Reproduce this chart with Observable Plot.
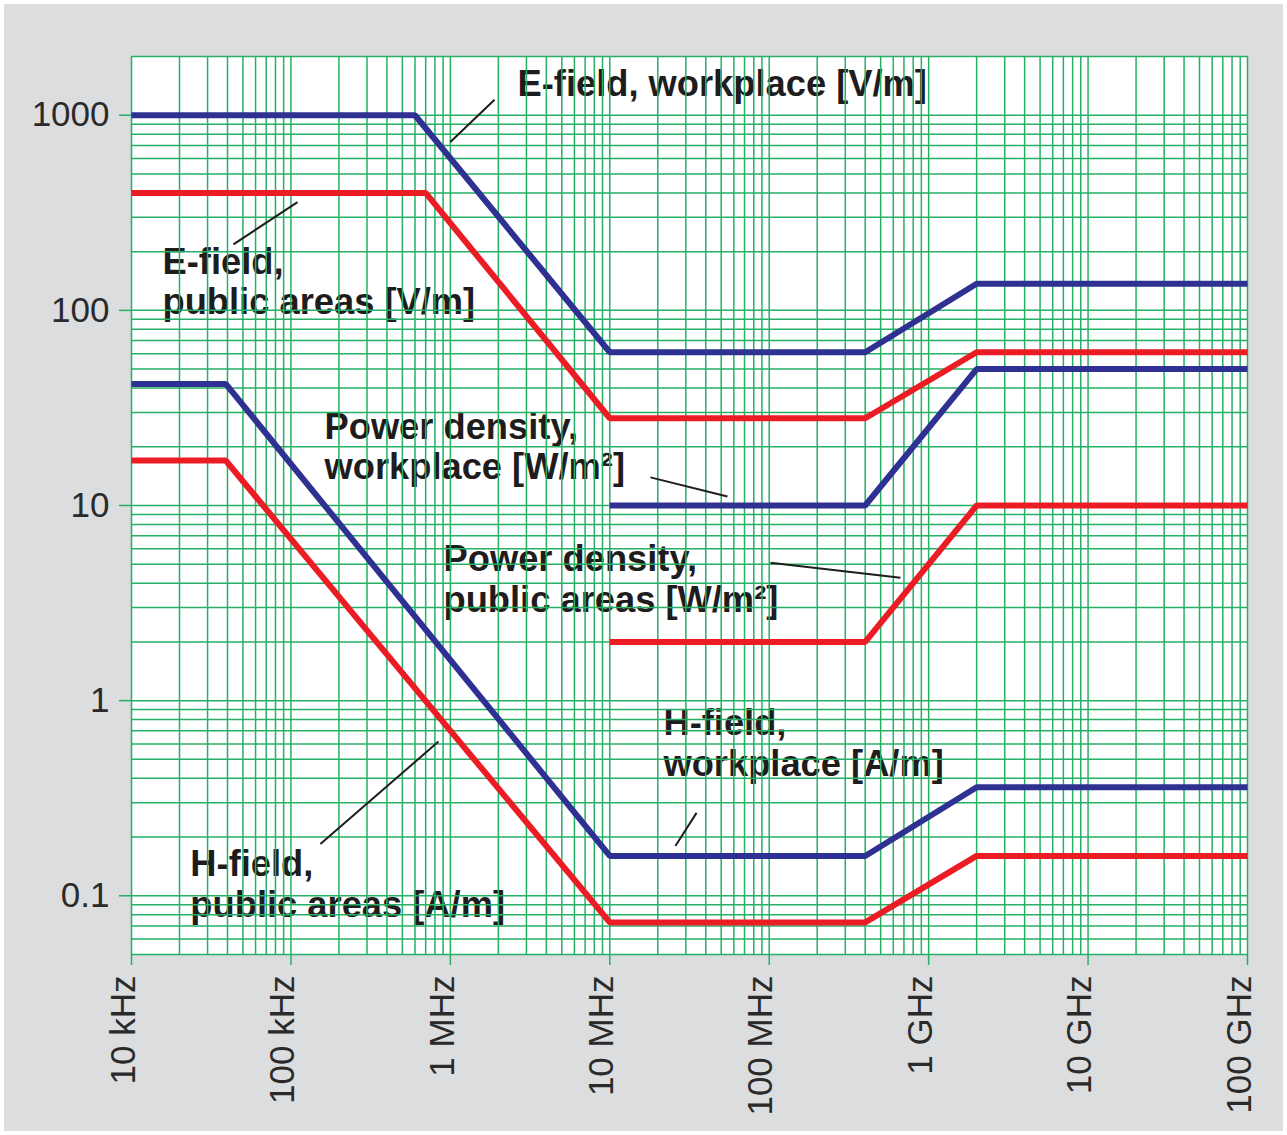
<!DOCTYPE html>
<html>
<head>
<meta charset="utf-8">
<script src="https://cdn.jsdelivr.net/npm/d3@7"></script>
<script src="https://cdn.jsdelivr.net/npm/@observablehq/plot@0.6"></script>
<style>
  html, body { margin: 0; padding: 0; background: #ffffff; }
  #wrap { position: absolute; left: 4px; top: 4px; width: 1279px; height: 1127px; background: #dcdddf; }
  svg { font-family: "Liberation Sans", Arial, sans-serif; }
</style>
</head>
<body>
<div id="wrap"></div>
<script>
// ---------- data ----------
const xTickValues = [1e4, 1e5, 1e6, 1e7, 1e8, 1e9, 1e10, 1e11];
const xTickLabels = ["10 kHz", "100 kHz", "1 MHz", "10 MHz", "100 MHz", "1 GHz", "10 GHz", "100 GHz"];
const yTickValues = [0.1, 1, 10, 100, 1000];
const yTickLabels = ["0.1", "1", "10", "100", "1000"];

// frequency (Hz) / limit value per series
const eWorkFreq   = [1e4, 6e5, 1e7, 4e8, 2e9, 1e11];
const eWorkVal    = [1000, 1000, 61, 61, 137, 137];
const ePublicFreq = [1e4, 7e5, 1e7, 4e8, 2e9, 1e11];
const ePublicVal  = [400, 400, 28, 28, 61, 61];
const pdWorkFreq  = [1e7, 4e8, 2e9, 1e11];
const pdWorkVal   = [10, 10, 50, 50];
const pdPublicFreq = [1e7, 4e8, 2e9, 1e11];
const pdPublicVal  = [2, 2, 10, 10];
const hWorkFreq   = [1e4, 3.9e4, 1e7, 4e8, 2e9, 1e11];
const hWorkVal    = [42, 42, 0.16, 0.16, 0.36, 0.36];
const hPublicFreq = [1e4, 3.9e4, 1e7, 4e8, 2e9, 1e11];
const hPublicVal  = [17, 17, 0.073, 0.073, 0.16, 0.16];

// annotation texts (one entry per text line) and their anchor in data space
const labelText  = ["E-field, workplace [V/m]", "E-field,", "public areas [V/m]",
                    "Power density,", "workplace [W/m²]", "Power density,", "public areas [W/m²]",
                    "H-field,", "workplace [A/m]", "H-field,", "public areas [A/m]"];
const labelFreq  = [2.637e6, 1.565e4, 1.565e4, 1.624e5, 1.624e5, 9.06e5, 9.06e5, 2.17e7, 2.17e7, 2.34e4, 2.34e4];
const labelValue = [1435, 176, 109.6, 25.2, 15.7, 5.27, 3.28, 0.764, 0.47, 0.1453, 0.0894];

// leader lines: start/end in data space
const leaderFreq1 = [1.892e6, 1.10e5, 1.80e7, 1.018e8, 3.50e7, 8.43e5];
const leaderVal1  = [1201, 358.6, 13.94, 5.09, 0.266, 0.617];
const leaderFreq2 = [1.0e6, 4.36e4, 5.47e7, 6.66e8, 2.58e7, 1.53e5];
const leaderVal2  = [730, 218, 11.13, 4.26, 0.180, 0.184];

// ---------- derived tables ----------
const BLUE = "#2e3192", RED = "#ec1c24", GREEN = "#25b066", INK = "#1f1c1d";
const series = [
  {name: "E workplace", f: eWorkFreq, v: eWorkVal, color: BLUE},
  {name: "E public", f: ePublicFreq, v: ePublicVal, color: RED},
  {name: "PD workplace", f: pdWorkFreq, v: pdWorkVal, color: BLUE},
  {name: "PD public", f: pdPublicFreq, v: pdPublicVal, color: RED},
  {name: "H workplace", f: hWorkFreq, v: hWorkVal, color: BLUE},
  {name: "H public", f: hPublicFreq, v: hPublicVal, color: RED}
];
const Y_MIN = 0.05, Y_MAX = 2000;
const gridX = [];
for (let k = 4; k <= 10; k++) for (let d = 1; d <= 9; d++) gridX.push(d * Math.pow(10, k));
gridX.push(1e11);
const gridY = [];
for (let k = -2; k <= 3; k++) for (let d = 1; d <= 9; d++) {
  const v = d * Math.pow(10, k);
  if (v >= Y_MIN - 1e-9 && v <= Y_MAX + 1e-9) gridY.push(v);
}

const xLabelMap = new Map(xTickValues.map((v, i) => [v, xTickLabels[i]]));
const yLabelMap = new Map(yTickValues.map((v, i) => [v, yTickLabels[i]]));
const labels = labelText.map((t, i) => ({t, f: labelFreq[i], v: labelValue[i]}));
const leaders = leaderFreq1.map((f, i) => ({x1: f, y1: leaderVal1[i], x2: leaderFreq2[i], y2: leaderVal2[i]}));

const chart = Plot.plot({
  width: 1279,
  height: 1127,
  marginLeft: 127,
  marginTop: 52,
  marginRight: 36,
  marginBottom: 177,
  style: {background: "transparent", color: "#2a2a2a", fontFamily: "'Liberation Sans', Arial, sans-serif"},
  x: {type: "log", domain: [1e4, 1e11]},
  y: {type: "log", domain: [Y_MIN, Y_MAX]},
  marks: [
    Plot.frame({fill: "white", stroke: "none"}),
    Plot.text(labels, {x: "f", y: "v", text: "t", textAnchor: "start", lineAnchor: "middle",
      fontSize: 36.3, fontWeight: "bold", fill: INK}),
    Plot.ruleX(gridX, {stroke: GREEN, strokeWidth: 1.5}),
    Plot.ruleY(gridY, {stroke: GREEN, strokeWidth: 1.5}),
    ...series.map(s => Plot.line(s.f.map((f, i) => ({f, v: s.v[i]})),
      {x: "f", y: "v", stroke: s.color, strokeWidth: 6, strokeLinejoin: "miter", strokeLinecap: "butt"})),
    Plot.link(leaders, {x1: "x1", y1: "y1", x2: "x2", y2: "y2", stroke: INK, strokeWidth: 2}),
    Plot.axisX({ticks: xTickValues, tickSize: 11, stroke: GREEN, strokeWidth: 1.5, text: null, label: null}),
    Plot.axisX({ticks: xTickValues, tickFormat: d => xLabelMap.get(d), tickRotate: -90,
      tickSize: 11, tickPadding: 10, dx: -8, fontSize: 35, label: null, stroke: null}),
    Plot.axisY({ticks: yTickValues, tickFormat: d => yLabelMap.get(d),
      tickSize: 12, tickPadding: 10, stroke: GREEN, strokeWidth: 1.5, fontSize: 35, label: null})
  ]
});
document.getElementById("wrap").appendChild(chart);
</script>
</body>
</html>
